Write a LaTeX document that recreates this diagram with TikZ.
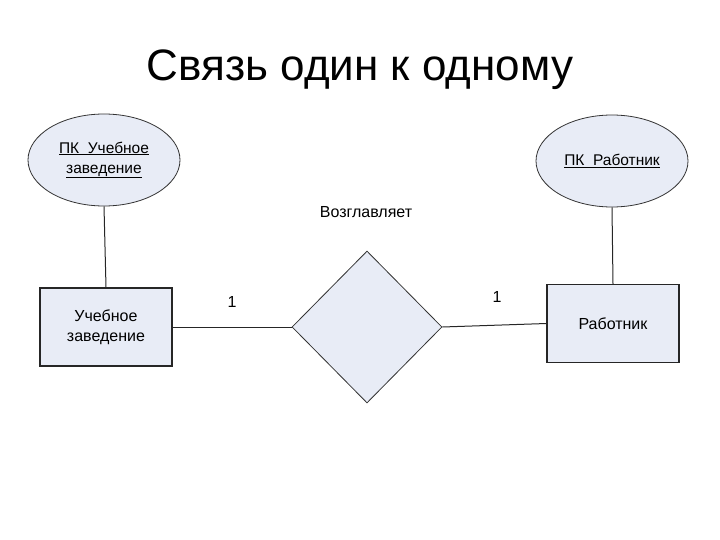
\documentclass[tikz,border=0pt]{standalone}
\usepackage{fontspec}
\setmainfont{Liberation Sans}
\usetikzlibrary{shapes.geometric}
\definecolor{fillc}{HTML}{E8ECF6}
\begin{document}
\begin{tikzpicture}[x=1pt,y=-1pt,
  ent/.style={draw=black!85, line width=1.2pt, fill=fillc, minimum width=132pt, minimum height=78pt, align=center, font=\fontsize{16}{20}\selectfont, inner sep=0pt},
  attr/.style={ellipse, draw=black!80, line width=0.8pt, fill=fillc, minimum width=152pt, minimum height=92pt, align=center, font=\fontsize{15.5}{20}\selectfont, inner sep=0pt},
  rel/.style={diamond, draw=black!80, line width=0.8pt, fill=fillc, minimum width=150pt, minimum height=152pt, inner sep=0pt},
  lbl/.style={font=\fontsize{16}{19}\selectfont, inner sep=0pt},
  conn/.style={draw=black!85, line width=1pt}]
\useasboundingbox (0,0) rectangle (720,540);
\node[font=\fontsize{44}{50}\selectfont, inner sep=0pt] (title) at (360,70) {Связь один к одному};
\node[attr] (e1) at (104,160) {\underline{ПК\ \ Учебное}\\\underline{заведение}};
\node[attr] (e2) at (612,161) {\underline{ПК\ \ Работник}};
\node[ent] (r1) at (106,327) {Учебное\\заведение};
\node[ent] (r2) at (613,323.5) {Работник};
\node[rel] (d) at (367,327) {};
\node[lbl] (t) at (366,212) {Возглавляет};
\node[lbl] (n1) at (232,302) {1};
\node[lbl] (n2) at (497,297) {1};
\draw[conn] (e1.south) -- (r1.north);
\draw[conn] (e2.south) -- (r2.north);
\draw[conn] (r1.east) -- (d.west);
\draw[conn] (d.east) -- (r2.west);
\end{tikzpicture}
\end{document}
